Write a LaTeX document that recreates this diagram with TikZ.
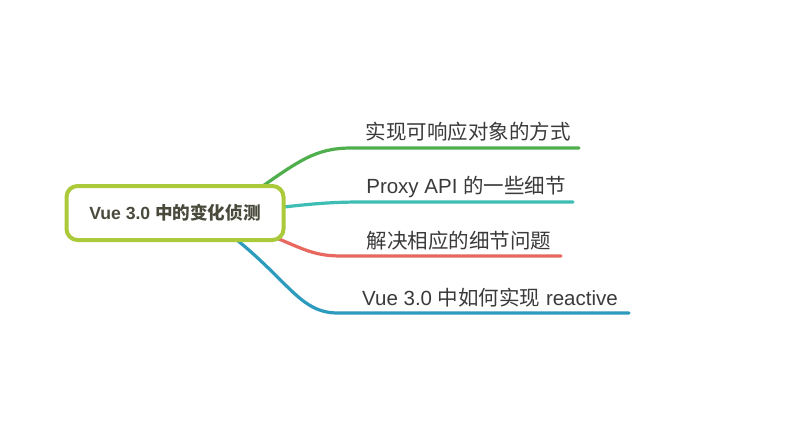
\documentclass[tikz,border=0pt]{standalone}
\usepackage{fontspec}
\setmainfont{Liberation Sans}
\newfontfamily\cjk{Noto Sans CJK SC}
\definecolor{cgreen}{HTML}{4EAF4C}
\definecolor{cteal}{HTML}{3EBDB3}
\definecolor{cred}{HTML}{E8685F}
\definecolor{cblue}{HTML}{2D9BBE}
\definecolor{cbox}{HTML}{AACA3A}
\definecolor{ctext}{HTML}{3A3A3A}
\definecolor{croot}{HTML}{4A4A3C}
\tikzset{
  branch/.style={line width=3.2pt, line cap=round},
  leaf/.style={inner sep=0pt, anchor=center, text=ctext, font=\fontsize{20.5}{24}\selectfont},
  rootbox/.style={draw=cbox, line width=4pt, rounded corners=11pt, fill=white,
    minimum width=217pt, minimum height=54pt, text=croot, font=\fontsize{17.6}{21}\selectfont}
}
\begin{document}
\begin{tikzpicture}[x=1pt,y=-1pt]
\useasboundingbox[fill=white] (0,0) rectangle (789,439);
% leaf texts
\node[leaf] (t1) at (468,132) {\cjk 实现可响应对象的方式};
\node[leaf] (t2) at (466,187) {Proxy API {\cjk 的一些细节}};
\node[leaf] (t3) at (459,241) {\cjk 解决相应的细节问题};
\node[leaf] (t4) at (490,298) {Vue 3.0 {\cjk 中如何实现} reactive};
% line coordinates
\coordinate (g0) at (250,195);
\coordinate (g1) at (352,148);
\coordinate (g2) at (579,148);
\coordinate (e0) at (275,208);
\coordinate (e1) at (362,202);
\coordinate (e2) at (573,202);
\coordinate (r0) at (272,236);
\coordinate (r1) at (342,256);
\coordinate (r2) at (561,256);
\coordinate (b0) at (232,236);
\coordinate (b1) at (338,313);
\coordinate (b2) at (629,313);
\draw[branch, cgreen] (g0) .. controls (300,160) and (315,148) .. (g1) -- (g2);
\draw[branch, cteal] (e0) .. controls (310,204) and (330,202) .. (e1) -- (e2);
\draw[branch, cred] (r0) .. controls (305,250) and (315,256) .. (r1) -- (r2);
\draw[branch, cblue] (b0) .. controls (290,282) and (300,313) .. (b1) -- (b2);
% root
\node[rootbox] (root) at (175,213) {\bfseries Vue 3.0 {\cjk\bfseries 中的变化侦测}};
\end{tikzpicture}
\end{document}
